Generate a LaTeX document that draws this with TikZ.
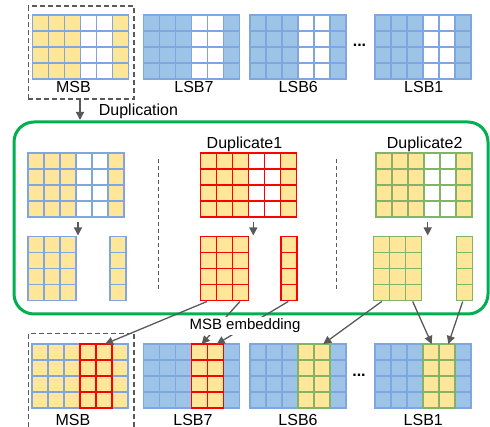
\documentclass[tikz,border=0pt]{standalone}
\usepackage{fontspec}
\setmainfont{Liberation Sans}
\usetikzlibrary{arrows.meta}

\definecolor{cellyellow}{HTML}{FFE699}
\definecolor{cellblue}{HTML}{9DC3E6}
\definecolor{lineblue}{HTML}{7EA6E0}
\definecolor{linered}{HTML}{FF0000}
\definecolor{linegreen}{HTML}{82B366}
\definecolor{framegreen}{HTML}{00B050}
\definecolor{arrowgray}{HTML}{595959}

\tikzset{
  cell/.style={line width=1.6pt},
  flow/.style={draw=arrowgray, line width=1.3pt, -{Triangle[width=8pt,length=8pt]}},
  lbl/.style={font=\fontsize{16}{18}\selectfont, inner sep=1pt, anchor=base},
  dotsep/.style={font=\fontsize{16}{18}\selectfont\bfseries, inner sep=0pt, anchor=base},
  sepline/.style={draw=arrowgray, line width=1pt, dash pattern=on 4pt off 3pt},
  groupbox/.style={draw=arrowgray, line width=1.2pt, dash pattern=on 5pt off 3pt},
}

% 4-row grid of 16pt cells: x0, y0, line colour, list of column fills
\newcommand{\cellgrid}[4]{%
  \foreach \f [count=\k from 0] in {#4} {
    \foreach \r in {0,1,2,3}
      \draw[cell, draw=#3, fill=\f] ({#1+16*\k},{#2+16*\r}) rectangle ++(16,16);
  }}

\begin{document}
\begin{tikzpicture}[x=1pt, y=-1pt]
\useasboundingbox (0,0) rectangle (490,427);

% ---------- top row: bit planes ----------
\cellgrid{32.3}{15}{lineblue}{cellyellow,cellyellow,cellyellow,white,white,cellyellow}
\cellgrid{143.5}{15}{lineblue}{cellblue,cellblue,cellblue,white,white,cellblue}
\cellgrid{250}{15}{lineblue}{cellblue,cellblue,cellblue,white,white,cellblue}
\cellgrid{375}{15}{lineblue}{cellblue,cellblue,cellblue,white,white,cellblue}
\node[groupbox, minimum width=105.7pt, minimum height=93pt, inner sep=0] (msbtop) at (81.2,52.5) {};
\node[lbl] (tmsb) at (73.5,92.7) {MSB};
\node[lbl] (tlsb7) at (194,92.7) {LSB7};
\node[lbl] (tlsb6) at (298.3,92.7) {LSB6};
\node[lbl] (tlsb1) at (423.8,92.7) {LSB1};
\node[dotsep] (tdots) at (359.5,46.3) {...};

% ---------- duplication stage ----------
\node[draw=framegreen, line width=3pt, rounded corners=20pt, minimum width=474pt,
      minimum height=192pt, inner sep=0] (frame) at (251,218) {};
\coordinate (dupfrom) at (80,100);
\coordinate (dupto) at (80,120);
\draw[flow] (dupfrom) -- (dupto);
\node[lbl, anchor=base west] (tdup) at (97.7,115.8) {Duplication};

\node[lbl] (tdup1) at (244.5,148.3) {Duplicate1};
\node[lbl] (tdup2) at (424.7,148.3) {Duplicate2};

\cellgrid{28}{153.3}{lineblue}{cellyellow,cellyellow,cellyellow,white,white,cellyellow}
\cellgrid{28}{236.7}{lineblue}{cellyellow,cellyellow,cellyellow}
\cellgrid{110}{236.7}{lineblue}{cellyellow}

\cellgrid{200.5}{153.3}{linered}{cellyellow,cellyellow,cellyellow,white,white,cellyellow}
\cellgrid{200.5}{236.7}{linered}{cellyellow,cellyellow,cellyellow}
\cellgrid{281}{236.7}{linered}{cellyellow}

\cellgrid{376}{153.3}{linegreen}{cellyellow,cellyellow,cellyellow,white,white,cellyellow}
\cellgrid{373.5}{236.7}{linegreen}{cellyellow,cellyellow,cellyellow}
\cellgrid{456.3}{236.7}{linegreen}{cellyellow}

\draw[sepline] (158.7,159) -- (158.7,292);
\draw[sepline] (336,159) -- (336,292);

\coordinate (splitAfrom) at (78,221.7);   \coordinate (splitAto) at (78,235.5);
\coordinate (splitBfrom) at (253.3,221.7); \coordinate (splitBto) at (253.3,235.5);
\coordinate (splitCfrom) at (427.7,221.7); \coordinate (splitCto) at (427.7,235.5);
\draw[flow] (splitAfrom) -- (splitAto);
\draw[flow] (splitBfrom) -- (splitBto);
\draw[flow] (splitCfrom) -- (splitCto);

% ---------- bottom row: embedded planes ----------
\cellgrid{32}{344.3}{lineblue}{cellyellow,cellyellow,cellyellow,cellyellow,cellyellow,cellyellow}
\cellgrid{80}{344.3}{linered}{cellyellow,cellyellow}
\cellgrid{143.5}{344.3}{lineblue}{cellblue,cellblue,cellblue,cellyellow,cellyellow,cellblue}
\cellgrid{191.5}{344.3}{linered}{cellyellow,cellyellow}
\cellgrid{250}{344.3}{lineblue}{cellblue,cellblue,cellblue,cellyellow,cellyellow,cellblue}
\cellgrid{298}{344.3}{linegreen}{cellyellow,cellyellow}
\cellgrid{375}{344.3}{lineblue}{cellblue,cellblue,cellblue,cellyellow,cellyellow,cellblue}
\cellgrid{423}{344.3}{linegreen}{cellyellow,cellyellow}
\draw[groupbox] (28.3,427) -- (28.3,333.3) -- (134,333.3) -- (134,427);

\node[lbl] (bmsb) at (73,425) {MSB};
\node[lbl] (blsb7) at (193,425) {LSB7};
\node[lbl] (blsb6) at (298,425) {LSB6};
\node[lbl] (blsb1) at (423.3,425) {LSB1};
\node[dotsep] (bdots) at (359,376.3) {...};

% embedding arrows
\coordinate (redA) at (207,301.5);   \coordinate (msbin) at (105,344);
\coordinate (redB) at (240,301.5);   \coordinate (lsb7inA) at (201.7,344);
\coordinate (redC) at (288.3,301.5); \coordinate (lsb7inB) at (216.7,344);
\coordinate (grnA) at (381.7,301.5); \coordinate (lsb6in) at (323.3,344);
\coordinate (grnB) at (412.7,301.5); \coordinate (lsb1inA) at (431.7,344);
\coordinate (grnC) at (462.7,301.5); \coordinate (lsb1inB) at (448.3,344);
\draw[flow] (redA) -- (msbin);
\draw[flow] (redB) -- (lsb7inA);
\draw[flow] (redC) -- (lsb7inB);
\draw[flow] (grnA) -- (lsb6in);
\draw[flow] (grnB) -- (lsb1inA);
\draw[flow] (grnC) -- (lsb1inB);

\node[lbl, fill=white, font=\fontsize{15}{17}\selectfont, inner ysep=2pt] (tembed) at (245,330) {MSB embedding};
\end{tikzpicture}
\end{document}
